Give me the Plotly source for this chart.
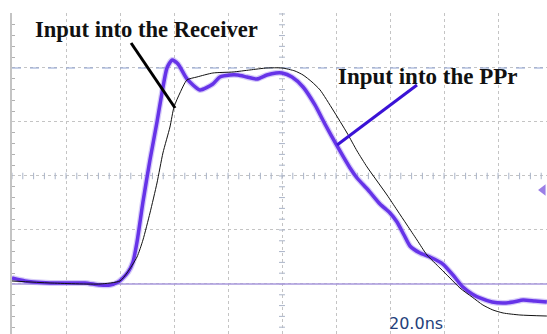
import plotly.graph_objects as go

# ---- data (time in ns, amplitude in divisions) ----
ppr_t = [-100.0, -95.2, -92.2, -85.9, -79.6, -73.0, -67.4, -63.7, -60.7, -59.3, -57.0, -55.2,
         -53.7, -51.5, -48.9, -46.3, -44.4, -42.6, -40.7, -38.5, -35.2, -30.4, -25.6, -23.0,
         -19.3, -16.3, -13.0, -9.3, -5.6,
         -2.2, 0.0, 3.7, 7.8, 12.2, 15.9, 20.4, 25.2, 27.8, 31.9, 36.3, 40.0, 42.6, 45.2,
         47.4, 51.1, 54.8, 59.6, 63.3, 67.0, 70.4, 73.3, 77.8, 81.9, 85.6, 89.3, 93.7, 98.1]
ppr_v = [-1.889, -1.944, -1.963, -1.981, -1.981, -1.981, -2.019, -2.019, -1.963, -1.907, -1.778, -1.593,
         -1.222, -0.481, 0.296, 1.0, 1.556, 2.0, 2.148, 2.074, 1.796, 1.593, 1.704, 1.833,
         1.870, 1.870, 1.833, 1.796, 1.870,
         1.907, 1.907, 1.833, 1.648, 1.315, 0.963, 0.556, 0.148, -0.037, -0.259, -0.519, -0.685, -0.852, -1.093,
         -1.296, -1.426, -1.5, -1.630, -1.833, -2.056, -2.185, -2.259, -2.333, -2.352, -2.333, -2.296, -2.315, -2.333]

rx_t = [-100.0, -85.9, -67.4, -60.0, -57.4, -53.7, -51.5, -48.9, -46.3, -44.1, -41.5, -40.0,
        -37.8, -35.2, -31.5, -25.6, -18.1, -11.9, -5.6,
        0.0, 4.8, 7.8, 11.1, 14.1, 18.9, 24.1, 27.8, 31.5, 35.2, 38.9, 42.6, 46.3, 50.0,
        53.7, 58.5, 62.2, 65.9, 70.4, 74.4, 78.1, 81.9, 88.1, 98.1]
rx_v = [-1.944, -1.981, -2.0, -1.944, -1.796, -1.5, -1.185, -0.685, -0.130, 0.426, 0.907, 1.278,
        1.537, 1.778, 1.833, 1.907, 1.926, 1.963, 2.0,
        2.0, 1.944, 1.870, 1.741, 1.593, 1.222, 0.796, 0.463, 0.167, -0.093, -0.352, -0.630, -0.907, -1.185,
        -1.463, -1.704, -1.889, -2.074, -2.241, -2.389, -2.481, -2.537, -2.574, -2.593]

label_rx = "Input into the Receiver"
label_ppr = "Input into the PPr"
timebase = "20.0ns"
cursor_level = 2.0
ground_level = -2.0
trigger_level = -0.26

X0, X1 = -100.0, 98.15
Y0, Y1 = -2.926, 3.018

PURPLE = "#6633e8"

fig = go.Figure()

# minor ticks on centre crosshair
tx, ty = [], []
k = -25
while k <= 25:
    t = k * 4.0
    tx += [t, t, None]
    ty += [-0.06, 0.06, None]
    k += 1
k = -15
while k <= 15:
    v = k * 0.2
    tx += [-1.1, 1.1, None]
    ty += [v, v, None]
    k += 1
fig.add_trace(go.Scatter(x=tx, y=ty, mode="lines", line=dict(color="#aab4c8", width=1),
                         hoverinfo="skip", showlegend=False))

# reference lines
fig.add_trace(go.Scatter(x=[X0, X1], y=[cursor_level, cursor_level], mode="lines",
                         line=dict(color="#8ea2d2", width=1.2, dash="dash"), showlegend=False))
fig.add_trace(go.Scatter(x=[X0, X1], y=[ground_level, ground_level], mode="lines",
                         line=dict(color="#a898dc", width=1.3), showlegend=False))

# purple trace (glow + core)
fig.add_trace(go.Scatter(x=ppr_t, y=ppr_v, mode="lines",
                         line=dict(color="#a58ef2", width=6, shape="spline", smoothing=0.6),
                         opacity=0.45, showlegend=False))
fig.add_trace(go.Scatter(x=ppr_t, y=ppr_v, mode="lines",
                         line=dict(color=PURPLE, width=3.5, shape="spline", smoothing=0.6),
                         showlegend=False))
# black trace
fig.add_trace(go.Scatter(x=rx_t, y=rx_v, mode="lines",
                         line=dict(color="#111111", width=1, shape="spline", smoothing=0.6),
                         showlegend=False))

# trigger marker
fig.add_trace(go.Scatter(x=[96.7], y=[trigger_level], mode="markers",
                         marker=dict(symbol="triangle-left", size=10, color="#9b7fe6"),
                         cliponaxis=False, showlegend=False))

# annotation pointer lines
fig.add_shape(type="line", x0=-55.9, y0=2.463, x1=-39.6, y1=1.259,
              line=dict(color="black", width=3))
fig.add_shape(type="line", x0=50.0, y0=1.685, x1=20.4, y1=0.574,
              line=dict(color="#3a12d6", width=3))

serif = "Liberation Serif, Times New Roman, serif"
fig.add_annotation(x=-50.2, y=2.72, text="<b>" + label_rx + "</b>", showarrow=False,
                   font=dict(family=serif, size=22.6, color="#111111"), xanchor="center", yanchor="middle")
fig.add_annotation(x=53.9, y=1.85, text="<b>" + label_ppr + "</b>", showarrow=False,
                   font=dict(family=serif, size=23, color="#111111"), xanchor="center", yanchor="middle")
fig.add_annotation(x=49.6, y=-2.74, text=timebase, showarrow=False,
                   font=dict(family="DejaVu Sans, sans-serif", size=16, color="#24407a"),
                   xanchor="center", yanchor="middle")

fig.update_layout(
    width=547, height=334,
    margin=dict(l=0, r=0, t=0, b=0),
    paper_bgcolor="white", plot_bgcolor="white",
    xaxis=dict(range=[X0, X1], domain=[12 / 547, 1], tick0=0, dtick=20,
               showgrid=True, gridcolor="#c4c4c4", griddash="dot", gridwidth=1,
               zeroline=False, showticklabels=False, ticks="", showline=False),
    yaxis=dict(range=[Y0, Y1], domain=[0, 1 - 13 / 334], tick0=0, dtick=1,
               showgrid=True, gridcolor="#c4c4c4", griddash="dot", gridwidth=1,
               zeroline=False, showticklabels=False, ticks="",
               showline=True, linecolor="#c4c4c4", linewidth=2,
               minor=dict(ticks="inside", dtick=0.2, ticklen=3, tickcolor="#b0b0b0", showgrid=False)),
)

fig.write_html("out.html")
